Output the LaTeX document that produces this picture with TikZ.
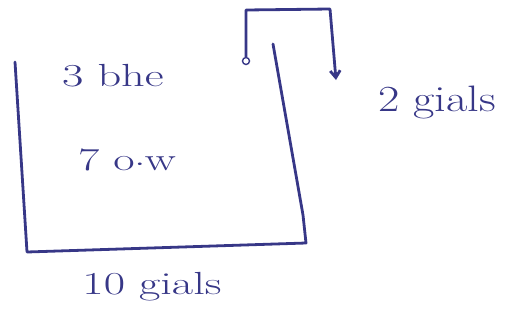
\documentclass[tikz,border=0pt]{standalone}
\usetikzlibrary{arrows.meta}
\definecolor{ink}{RGB}{55,55,135}
\newcommand{\wide}[1]{\scalebox{1.45}[1]{#1}}
\begin{document}
\begin{tikzpicture}[x=1pt,y=-1pt,
  pen/.style={draw=ink,line width=2.8pt,line cap=round,line join=round},
  lbl/.style={text=ink,font=\fontsize{32}{36}\selectfont,inner sep=0pt}]
\useasboundingbox (0,0) rectangle (525,325);
% box
\coordinate (tl) at (15,62);
\coordinate (bl) at (27,252);
\coordinate (br) at (306,243);
\coordinate (rk) at (303,215);
\coordinate (tr) at (273,44);
\draw[pen] (tl) -- (bl) -- (br) -- (rk) -- (tr);
% outlet
\node[circle,draw=ink,line width=1.4pt,minimum size=7pt,inner sep=0pt] (o) at (246,61) {};
\coordinate (c1) at (246,10);
\coordinate (c2) at (330,9);
\coordinate (e) at (336,80);
\draw[pen,-{Straight Barb[length=7pt,width=10pt]}] (o) -- (c1) -- (c2) -- (e);
% labels
\node[lbl] (t1) at (113,76) {\wide{3 bhe}};
\node[lbl] (t2) at (127,160) {\wide{7 o$\cdot$w}};
\node[lbl] (t3) at (437,102) {\scalebox{1.45}[1.15]{2 gials}};
\node[lbl] (t4) at (152,287) {\wide{10 gials}};
\end{tikzpicture}
\end{document}
